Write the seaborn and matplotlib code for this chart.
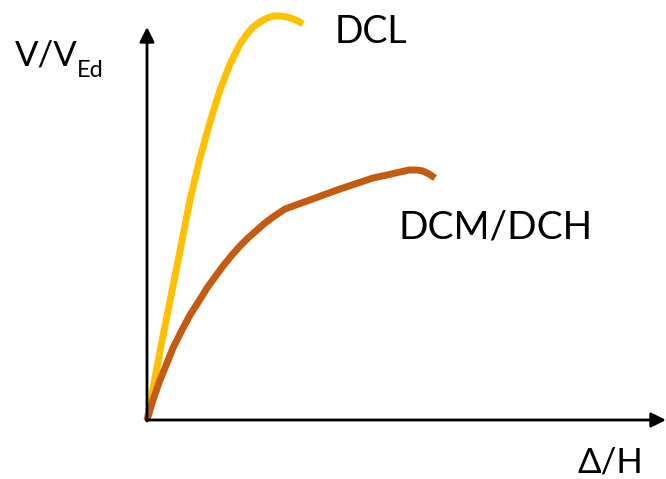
import numpy as np
import pandas as pd
import matplotlib.pyplot as plt
import seaborn as sns

# Curvas esquemáticas (unidades arbitrárias: deslocamento x, força y)
dcl_x = [0, 16, 33, 43, 53, 63, 73, 83, 93, 100, 106, 113, 120, 127, 133, 140, 146, 151, 156]
dcl_y = [0, 84, 169, 220, 262, 298, 330, 356, 376, 386, 393, 398, 402, 404, 404, 403, 401, 399, 396]

dcm_x = [0, 6, 13, 20, 26, 35, 43, 52, 60, 68, 76, 85, 93, 101, 110, 118, 126, 132, 138,
         160, 193, 226, 240, 253, 262, 270, 276, 282, 288]
dcm_y = [0, 20, 40, 57, 72, 90, 105, 119, 132, 143, 154, 165, 174, 182, 190, 197, 203, 207, 211,
         219, 231, 242, 245, 248, 250, 250, 249, 246, 242]

amarelo = "#FFC000"
laranja = "#C55A11"

sns.set_style("white")
plt.rcParams['font.family'] = ['Lato', 'DejaVu Sans']
plt.rcParams['text.color'] = 'black'

fig = plt.figure(figsize=(6.66, 4.79), dpi=100)
ax = fig.add_axes([0, 0, 1, 1])

df = pd.concat([
  pd.DataFrame({'x': dcl_x, 'y': dcl_y, 'curva': 'DCL'}),
  pd.DataFrame({'x': dcm_x, 'y': dcm_y, 'curva': 'DCM/DCH'}),
])

sns.lineplot(
  data=df, x='x', y='y', hue='curva', sort=False,
  palette={'DCL': amarelo, 'DCM/DCH': laranja},
  linewidth=5, legend=False, ax=ax,
)
for ln in ax.lines:
  ln.set_solid_capstyle('butt')
  ln.set_solid_joinstyle('round')

# eixos com setas
ax.annotate("", xy=(0, 393), xytext=(0, -1),
  arrowprops=dict(arrowstyle="-|>", lw=2, color='black', mutation_scale=22, shrinkA=0, shrinkB=0))
ax.annotate("", xy=(519, 0), xytext=(-1, 0),
  arrowprops=dict(arrowstyle="-|>", lw=2, color='black', mutation_scale=22, shrinkA=0, shrinkB=0))

ax.text(-132, 355, "V/V", fontsize=25, ha='left', va='baseline')
ax.text(-70, 343, "Ed", fontsize=17, ha='left', va='baseline')
ax.text(188, 377, "DCL", fontsize=27, ha='left', va='baseline')
ax.text(252, 182, "DCM/DCH", fontsize=28, ha='left', va='baseline')
ax.text(430, -53, "Δ/H", fontsize=25, ha='left', va='baseline')

ax.set_xlim(-147, 519)
ax.set_ylim(-59, 420)
ax.axis('off')

plt.savefig("out.png", dpi=100)
plt.close()
